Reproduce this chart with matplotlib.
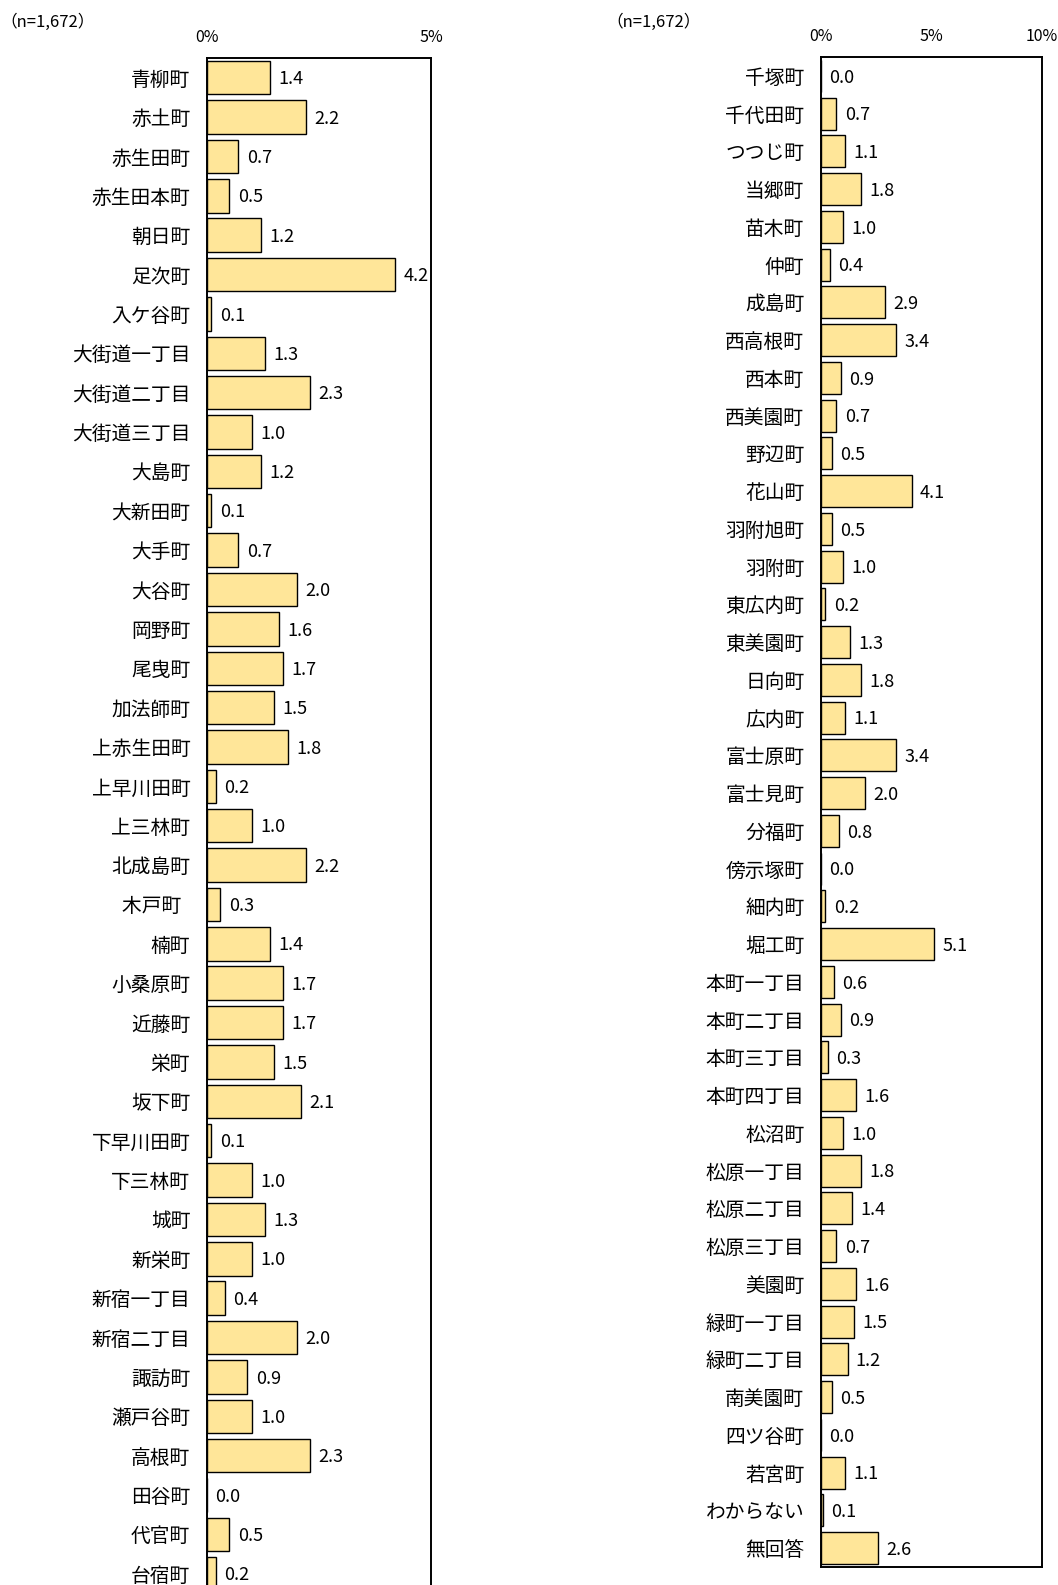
import matplotlib
matplotlib.use("Agg")
import matplotlib.pyplot as plt

plt.rcParams["font.family"] = ["Noto Sans CJK JP", "DejaVu Sans"]

# left panel
left_names = [
    "青柳町", "赤土町", "赤生田町", "赤生田本町", "朝日町", "足次町", "入ケ谷町",
    "大街道一丁目", "大街道二丁目", "大街道三丁目", "大島町", "大新田町", "大手町",
    "大谷町", "岡野町", "尾曳町", "加法師町", "上赤生田町", "上早川田町", "上三林町",
    "北成島町", "木戸町  ", "楠町", "小桑原町", "近藤町", "栄町", "坂下町",
    "下早川田町", "下三林町", "城町", "新栄町", "新宿一丁目", "新宿二丁目",
    "諏訪町", "瀬戸谷町", "高根町", "田谷町", "代官町", "台宿町",
]
left_values = [
    1.4, 2.2, 0.7, 0.5, 1.2, 4.2, 0.1, 1.3, 2.3, 1.0, 1.2, 0.1, 0.7,
    2.0, 1.6, 1.7, 1.5, 1.8, 0.2, 1.0, 2.2, 0.3, 1.4, 1.7, 1.7, 1.5, 2.1,
    0.1, 1.0, 1.3, 1.0, 0.4, 2.0, 0.9, 1.0, 2.3, 0.0, 0.5, 0.2,
]

# right panel
right_names = [
    "千塚町", "千代田町", "つつじ町", "当郷町", "苗木町", "仲町", "成島町",
    "西高根町", "西本町", "西美園町", "野辺町", "花山町", "羽附旭町", "羽附町",
    "東広内町", "東美園町", "日向町", "広内町", "富士原町", "富士見町", "分福町",
    "傍示塚町", "細内町", "堀工町", "本町一丁目", "本町二丁目", "本町三丁目",
    "本町四丁目", "松沼町", "松原一丁目", "松原二丁目", "松原三丁目", "美園町",
    "緑町一丁目", "緑町二丁目", "南美園町", "四ツ谷町", "若宮町", "わからない", "無回答",
]
right_values = [
    0.0, 0.7, 1.1, 1.8, 1.0, 0.4, 2.9, 3.4, 0.9, 0.7, 0.5, 4.1, 0.5, 1.0,
    0.2, 1.3, 1.8, 1.1, 3.4, 2.0, 0.8, 0.0, 0.2, 5.1, 0.6, 0.9, 0.3,
    1.6, 1.0, 1.8, 1.4, 0.7, 1.6, 1.5, 1.2, 0.5, 0.0, 1.1, 0.1, 2.6,
]

W, H = 1058, 1585
fig = plt.figure(figsize=(W / 100, H / 100), dpi=100)


def px_axes(x0, x1, y0, y1):
    # pixel box (top-left origin) -> figure fraction axes
    return fig.add_axes([x0 / W, 1 - y1 / H, (x1 - x0) / W, (y1 - y0) / H])


def draw_panel(ax, names, values, xmax, ticks):
    n = len(names)
    ax.barh(range(n), values, height=0.85, color="#FFE699",
            edgecolor="black", linewidth=1.0)
    ax.set_ylim(n - 0.5, -0.5)
    ax.set_xlim(0, xmax)
    ax.set_yticks(range(n))
    ax.set_yticklabels(names, fontsize=14.2)
    ax.set_xticks(ticks)
    ax.set_xticklabels([f"{t}%" for t in ticks], fontsize=11.5)
    ax.tick_params(axis="x", top=True, labeltop=True, bottom=False,
                   labelbottom=False, length=0, pad=9)
    ax.tick_params(axis="y", length=0, pad=12)
    for s in ax.spines.values():
        s.set_linewidth(1.4)
        s.set_color("black")
    for i, v in enumerate(values):
        ax.annotate(f"{v:.1f}", (v, i), xytext=(6, -1.2), textcoords="offset points",
                    va="center", ha="left", fontsize=13)


ax1 = px_axes(207, 431, 58, 58 + 39 * 39.37)
draw_panel(ax1, left_names, left_values, 5, [0, 5])

ax2 = px_axes(821, 1042, 57, 1567)
draw_panel(ax2, right_names, right_values, 10, [0, 5, 10])

fig.text(0 / W, 1 - 22 / H, "（n=1,672）", fontsize=12, va="center", ha="left")
fig.text(606 / W, 1 - 22 / H, "（n=1,672）", fontsize=12, va="center", ha="left")

fig.savefig("out.png", dpi=100)
